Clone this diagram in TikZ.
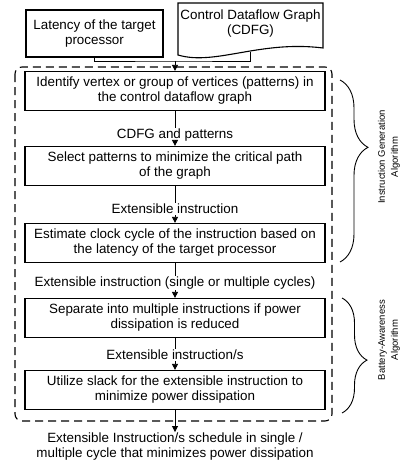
\documentclass[tikz,border=0pt]{standalone}
\usepackage{fontspec}
\setmainfont{Liberation Sans}
\usetikzlibrary{arrows.meta,decorations.pathreplacing}

\begin{document}
\begin{tikzpicture}[
    x=1pt, y=-1pt,
    font=\fontsize{13.4}{15}\selectfont,
    box/.style={draw, line width=1.2pt, minimum width=300pt, minimum height=39pt, align=center, inner sep=2pt},
    flowlabel/.style={inner sep=1pt, align=center},
    link/.style={line width=0.8pt},
    arrow/.style={link, -{Triangle[length=6pt,width=6pt]}},
    group/.style={draw, dash pattern=on 8pt off 5pt, line width=1.1pt, rounded corners=7pt},
    sidebrace/.style={decorate, line width=0.9pt},
    sidelabel/.style={rotate=90, align=center, font=\fontsize{9.5}{13}\selectfont}
]
    \useasboundingbox (0,0) rectangle (401,466);

    % inputs
    \node[box, minimum width=137pt, minimum height=47pt] (latency) at (94.5,33.5) {Latency of the target\\processor};
    \draw[line width=1.1pt] (178,3) -- (323,3) -- (323,48) .. controls (260,40) and (215,66) .. (178,55) -- cycle;
    \node[align=center] (cdfg) at (250.5,24) {Control Dataflow Graph\\(CDFG)};
    \coordinate (cdfgfoot) at (250,51.5);
    \coordinate (merge) at (175,61);

    % algorithm steps
    \draw[group] (15,67) rectangle (332,421);
    \node[box] (step1) at (175,91) {Identify vertex or group of vertices (patterns) in\\the control dataflow graph};
    \node[flowlabel] (lab1) at (175,135) {CDFG and patterns};
    \node[box] (step2) at (175,166) {Select patterns to minimize the critical path\\of the graph};
    \node[flowlabel] (lab2) at (175,209) {Extensible instruction};
    \node[box] (step3) at (175,243) {Estimate clock cycle of the instruction based on\\the latency of the target processor};
    \node[flowlabel] (lab3) at (175,283) {Extensible instruction (single or multiple cycles)};
    \node[box] (step4) at (175,318) {Separate into multiple instructions if power\\dissipation is reduced};
    \node[flowlabel] (lab4) at (175,355) {Extensible instruction/s};
    \node[box] (step5) at (175,390) {Utilize slack for the extensible instruction to\\minimize power dissipation};
    \node[flowlabel] (result) at (175,447) {Extensible Instruction/s schedule in single /\\multiple cycle that minimizes power dissipation};

    % connectors
    \draw[link] (latency.south) |- (merge) -| (cdfgfoot);
    \draw[arrow] (merge) -- (step1);
    \foreach \i/\j in {1/2,2/3,3/4,4/5} {
        \draw[link] (step\i) -- (lab\i);
        \draw[arrow] (lab\i) -- (step\j);
    }
    \draw[arrow] (step5) -- (result);

    % algorithm groups
    \draw[sidebrace, decoration={brace, amplitude=28pt, aspect=0.37}] (340,80) -- (340,262);
    \draw[sidebrace, decoration={brace, amplitude=25pt, aspect=0.54}] (342,298) -- (342,413);
    \node[sidelabel] (genlabel) at (389,157) {Instruction Generation\\Algorithm};
    \node[sidelabel] (batlabel) at (389,340) {Battery-Awareness\\Algorithm};
\end{tikzpicture}
\end{document}
